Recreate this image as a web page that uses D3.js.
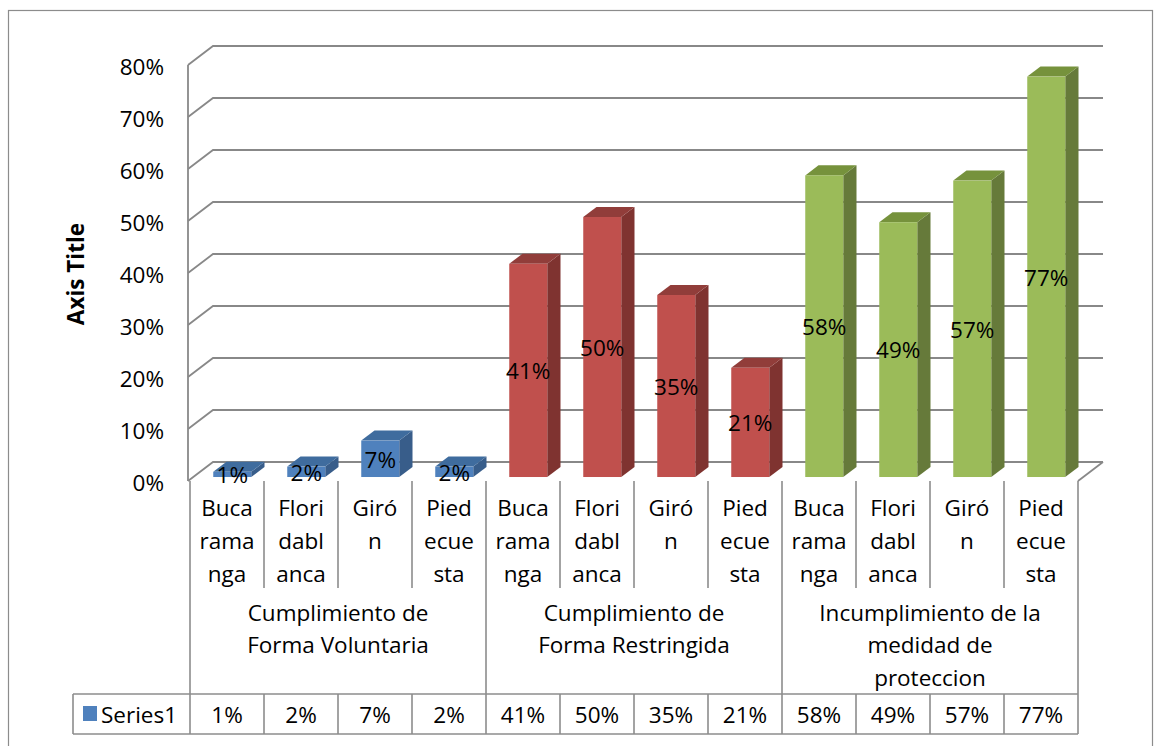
<!DOCTYPE html>
<html>
<head>
<meta charset="utf-8">
<script src="https://cdn.jsdelivr.net/npm/d3@7"></script>
<style>
  html, body { margin: 0; padding: 0; background: #fff; }
  svg { display: block; }
  text { font-family: "Open Sans", Lato, sans-serif; fill: #000; }
</style>
</head>
<body>
<svg id="chart" width="1156" height="746"></svg>
<script>
// ---- data ----
const cities = ["Bucaramanga", "Floridablanca", "Girón", "Piedecuesta"];
const cityLabelLines = [["Buca", "rama", "nga"], ["Flori", "dabl", "anca"], ["Giró", "n"], ["Pied", "ecue", "sta"]];
const groups = ["Cumplimiento de Forma Voluntaria", "Cumplimiento de Forma Restringida", "Incumplimiento de la medidad de proteccion"];
const groupLabelLines = [["Cumplimiento de", "Forma Voluntaria"], ["Cumplimiento de", "Forma Restringida"], ["Incumplimiento de la", "medidad de", "proteccion"]];
const values = [0.01, 0.02, 0.07, 0.02, 0.41, 0.50, 0.35, 0.21, 0.58, 0.49, 0.57, 0.77];
const valueLabels = ["1%", "2%", "7%", "2%", "41%", "50%", "35%", "21%", "58%", "49%", "57%", "77%"];
const yTicks = [0, 0.1, 0.2, 0.3, 0.4, 0.5, 0.6, 0.7, 0.8];
const seriesName = "Series1";
const axisTitle = "Axis Title";

// ---- styles ----
const FS = 22.5;
const groupColors = [
  { front: "#4F81BD", side: "#385D8A", top: "#3F6C9E" },
  { front: "#C0504D", side: "#7F3330", top: "#913D3A" },
  { front: "#9BBB59", side: "#667A3A", top: "#76923C" }
];
const gridColor = "#888888";
const tableColor = "#8c8c8c";

const svg = d3.select("#chart");

const cats = [];
groups.forEach((g, gi) => cities.forEach((c, ci) => cats.push({ key: gi + "-" + ci, gi, ci, city: c, group: g })));
cats.forEach((d, i) => { d.value = values[i]; d.label = valueLabels[i]; });

// geometry
const left = 190, right = 1078;
const floorY = 481;
const depthX = 25, depthY = -19;
const x = d3.scaleBand().domain(cats.map(d => d.key)).range([left, right]).paddingInner(0).paddingOuter(0);
const y = d3.scaleLinear().domain([0, 0.8]).range([floorY, floorY - 416]);

// outer border
svg.append("rect").attr("x", 8.5).attr("y", 10.5).attr("width", 1144).attr("height", 760)
  .attr("fill", "none").attr("stroke", "#8c8c8c").attr("stroke-width", 1.2);

const axisLeft = left - 2;
const grid = svg.append("g");
yTicks.forEach(t => {
  const yf = y(t);
  grid.append("path")
    .attr("d", `M${axisLeft},${yf} L${axisLeft + depthX},${yf + depthY} L${right + depthX},${yf + depthY}`)
    .attr("fill", "none").attr("stroke", gridColor).attr("stroke-width", 1.8);
});
grid.append("line").attr("x1", axisLeft).attr("x2", axisLeft).attr("y1", y(0.8)).attr("y2", floorY)
  .attr("stroke", gridColor).attr("stroke-width", 1.8);
grid.append("line").attr("x1", right).attr("y1", floorY).attr("x2", right + depthX).attr("y2", floorY + depthY)
  .attr("stroke", gridColor).attr("stroke-width", 1.8);

// y tick labels
svg.append("g").selectAll("text").data(yTicks).join("text")
  .attr("x", 164).attr("y", d => y(d) + 2).attr("dy", "0.35em")
  .attr("text-anchor", "end").attr("font-size", FS)
  .text(d => d3.format(".0%")(d));

// axis title
svg.append("text").attr("transform", "translate(84,274) rotate(-90)")
  .attr("text-anchor", "middle").attr("font-size", FS).attr("font-weight", "bold")
  .text(axisTitle);

// bars
const barW = 38;
const fBar0 = 0.21, fBar1 = 0.74;
const bdx0 = depthX * fBar0, bdy0 = depthY * fBar0;
const bdx = depthX * (fBar1 - fBar0), bdy = depthY * (fBar1 - fBar0);
const bars = svg.append("g");
cats.forEach(d => {
  const col = groupColors[d.gi];
  const x0 = x(d.key) + x.bandwidth() / 2 - barW / 2 + bdx0;
  const x1 = x0 + barW;
  const yb = y(0) + bdy0;
  const yt = y(d.value) + bdy0;
  const g = bars.append("g");
  g.append("path").attr("d", `M${x1},${yb} L${x1 + bdx},${yb + bdy} L${x1 + bdx},${yt + bdy} L${x1},${yt} Z`)
    .attr("fill", col.side);
  g.append("path").attr("d", `M${x0},${yt} L${x0 + bdx},${yt + bdy} L${x1 + bdx},${yt + bdy} L${x1},${yt} Z`)
    .attr("fill", col.top);
  g.append("rect").attr("x", x0).attr("y", yt).attr("width", barW).attr("height", yb - yt)
    .attr("fill", col.front);
  g.append("text").attr("x", (x0 + x1) / 2).attr("y", (yb + yt) / 2 + 1).attr("dy", "0.35em")
    .attr("text-anchor", "middle").attr("font-size", FS).text(d.label);
});

// ---- data table ----
const table = svg.append("g");
const rowTop = floorY, cityBottom = 588, groupBottom = 694, seriesBottom = 734;
const seriesLeft = 73;
const line = (x1, y1, x2, y2) => table.append("line").attr("x1", x1).attr("y1", y1).attr("x2", x2).attr("y2", y2)
  .attr("stroke", tableColor).attr("stroke-width", 1.6);

cats.forEach((d, i) => {
  if (i > 0 && d.ci !== 0) line(x(d.key), rowTop, x(d.key), cityBottom);
});
groups.forEach((g, gi) => {
  const xx = x(gi + "-0");
  line(xx, rowTop, xx, seriesBottom);
});
line(right, rowTop, right, seriesBottom);
line(seriesLeft, groupBottom, right, groupBottom);
line(seriesLeft, seriesBottom, right, seriesBottom);
line(seriesLeft, groupBottom, seriesLeft, seriesBottom);
cats.forEach((d, i) => { if (i > 0 && d.ci !== 0) line(x(d.key), groupBottom, x(d.key), seriesBottom); });

cats.forEach(d => {
  const lines = cityLabelLines[d.ci];
  table.append("text").attr("x", x(d.key) + x.bandwidth() / 2).attr("y", 508)
    .attr("text-anchor", "middle").attr("font-size", FS)
    .selectAll("tspan").data(lines).join("tspan")
    .attr("x", x(d.key) + x.bandwidth() / 2).attr("dy", (t, i) => i === 0 ? "0.35em" : 33)
    .text(t => t);
});
groups.forEach((g, gi) => {
  const cx = (x(gi + "-0") + x(gi + "-3") + x.bandwidth()) / 2;
  table.append("text").attr("x", cx).attr("y", 613)
    .attr("text-anchor", "middle").attr("font-size", FS)
    .selectAll("tspan").data(groupLabelLines[gi]).join("tspan")
    .attr("x", cx).attr("dy", (t, i) => i === 0 ? "0.35em" : 32.5)
    .text(t => t);
});
table.append("rect").attr("x", 83).attr("y", 706).attr("width", 14).attr("height", 15).attr("fill", groupColors[0].front);
table.append("text").attr("x", 101).attr("y", 715).attr("dy", "0.35em").attr("font-size", FS).text(seriesName);
cats.forEach(d => {
  table.append("text").attr("x", x(d.key) + x.bandwidth() / 2).attr("y", 715).attr("dy", "0.35em")
    .attr("text-anchor", "middle").attr("font-size", FS).text(d.label);
});
</script>
</body>
</html>
